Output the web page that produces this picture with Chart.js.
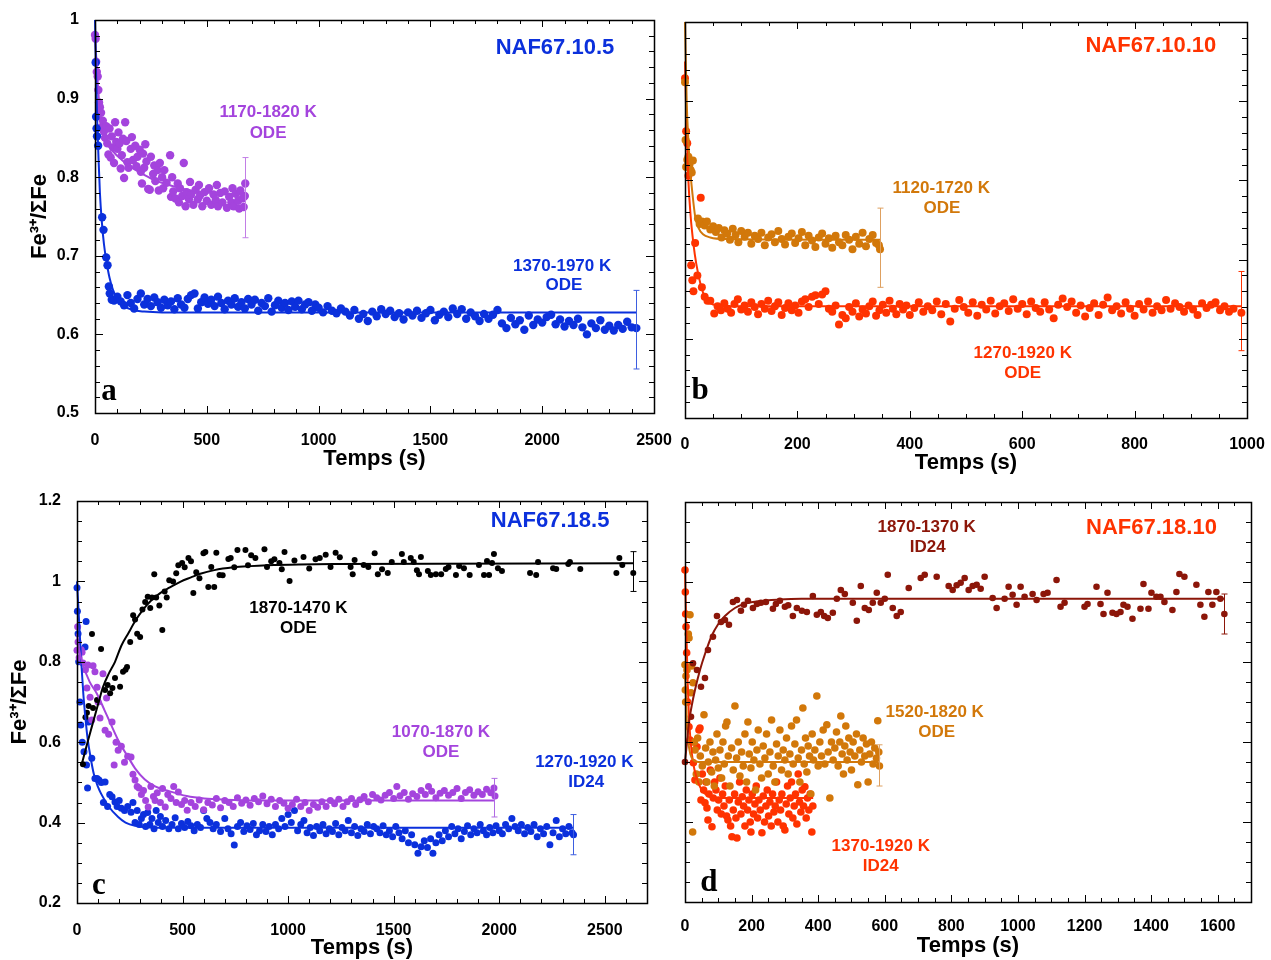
<!DOCTYPE html>
<html>
<head>
<meta charset="utf-8">
<script src="https://cdn.jsdelivr.net/npm/chart.js@4.4.1/dist/chart.umd.min.js"></script>
<style>
body{margin:0;background:#fff;width:1271px;height:960px;position:relative;overflow:hidden}
canvas{position:absolute}
</style>
</head>
<body>
<canvas id="ca" width="675" height="480" style="left:0;top:0"></canvas>
<canvas id="cb" width="601" height="480" style="left:670px;top:0"></canvas>
<canvas id="cc" width="675" height="480" style="left:0;top:480px"></canvas>
<canvas id="cd" width="601" height="480" style="left:670px;top:480px"></canvas>
<script>
// ---- data: [time (s), Fe3+/SumFe] ----

// tick labels
const aTicksX = [0, 500, 1000, 1500, 2000, 2500]
const abTicksY = [0.5, 0.6, 0.7, 0.8, 0.9, 1]
const bTicksX = [0, 200, 400, 600, 800, 1000]
const cTicksX = [0, 500, 1000, 1500, 2000, 2500]
const cdTicksY = [0.2, 0.4, 0.6, 0.8, 1, 1.2]
const dTicksX = [0, 200, 400, 600, 800, 1000, 1200, 1400, 1600]

// panel a : NAF67.10.5
const aPurple = [[0,0.981],[3,0.976],[5,0.947],[8,0.934],[12,0.928],[15,0.911],[18,0.895],[22,0.889],[27,0.882],[30,0.864],[35,0.872],[40,0.858],[45,0.850],[50,0.865],[55,0.843],[60,0.829],[65,0.862],[70,0.825],[75,0.852],[80,0.838],[85,0.818],[90,0.870],[95,0.845],[100,0.836],[105,0.857],[110,0.843],[115,0.811],[120,0.828],[125,0.849],[130,0.799],[135,0.870],[140,0.846],[145,0.819],[150,0.812],[160,0.836],[165,0.851],[170,0.822],[180,0.840],[185,0.814],[190,0.826],[200,0.835],[205,0.807],[210,0.792],[215,0.830],[220,0.812],[225,0.842],[230,0.820],[238,0.785],[245,0.784],[250,0.826],[260,0.804],[265,0.815],[270,0.795],[280,0.809],[285,0.783],[290,0.818],[300,0.800],[305,0.786],[310,0.809],[320,0.793],[336,0.828],[340,0.775],[345,0.800],[350,0.782],[360,0.773],[370,0.792],[375,0.768],[380,0.786],[390,0.776],[397,0.818],[405,0.763],[410,0.781],[420,0.772],[425,0.794],[430,0.778],[440,0.765],[450,0.784],[460,0.772],[465,0.790],[470,0.777],[480,0.763],[490,0.781],[500,0.770],[510,0.786],[520,0.765],[530,0.778],[540,0.771],[545,0.790],[550,0.763],[560,0.780],[570,0.768],[580,0.782],[590,0.761],[600,0.775],[610,0.768],[615,0.786],[620,0.763],[630,0.779],[640,0.770],[645,0.760],[650,0.783],[660,0.773],[665,0.762],[670,0.776],[672,0.792]]
const aPurpleFit = [[0,0.98],[10,0.93],[20,0.89],[30,0.865],[50,0.845],[80,0.833],[120,0.822],[160,0.813],[200,0.806],[260,0.797],[330,0.79],[450,0.782],[672,0.778]]
const aBlue = [[3,0.946],[5,0.877],[7,0.862],[9,0.852],[14,0.84],[32,0.749],[38,0.733],[50,0.698],[56,0.688],[62,0.661],[66,0.652],[75,0.644],[85,0.643],[100,0.648],[115,0.642],[130,0.637],[145,0.650],[160,0.640],[175,0.633],[190,0.645],[205,0.652],[220,0.638],[235,0.645],[250,0.636],[265,0.647],[280,0.641],[295,0.634],[310,0.644],[325,0.637],[340,0.642],[355,0.632],[370,0.646],[385,0.638],[400,0.634],[415,0.645],[430,0.650],[445,0.652],[460,0.633],[475,0.641],[490,0.647],[505,0.639],[520,0.644],[535,0.636],[550,0.648],[565,0.640],[580,0.632],[595,0.643],[610,0.638],[625,0.646],[640,0.635],[655,0.641],[670,0.633],[685,0.645],[700,0.638],[715,0.644],[730,0.630],[745,0.640],[760,0.636],[775,0.646],[790,0.629],[805,0.637],[820,0.643],[835,0.634],[850,0.640],[865,0.631],[880,0.642],[895,0.635],[910,0.643],[925,0.632],[940,0.638],[955,0.641],[970,0.630],[985,0.638],[1000,0.634],[1020,0.628],[1040,0.636],[1060,0.630],[1080,0.627],[1100,0.633],[1120,0.629],[1140,0.624],[1160,0.631],[1180,0.620],[1200,0.626],[1220,0.617],[1240,0.629],[1260,0.623],[1280,0.632],[1300,0.626],[1320,0.630],[1340,0.622],[1360,0.627],[1380,0.619],[1400,0.628],[1420,0.624],[1440,0.630],[1460,0.621],[1480,0.627],[1500,0.631],[1520,0.618],[1540,0.625],[1560,0.629],[1580,0.622],[1600,0.633],[1620,0.626],[1640,0.632],[1660,0.620],[1680,0.628],[1700,0.623],[1720,0.617],[1740,0.626],[1760,0.620],[1780,0.625],[1800,0.631],[1820,0.614],[1840,0.608],[1860,0.621],[1880,0.613],[1900,0.618],[1920,0.606],[1940,0.624],[1960,0.612],[1980,0.619],[2000,0.615],[2020,0.622],[2040,0.625],[2060,0.613],[2080,0.619],[2100,0.610],[2120,0.617],[2140,0.612],[2160,0.620],[2180,0.609],[2200,0.600],[2220,0.614],[2240,0.608],[2260,0.618],[2280,0.606],[2300,0.611],[2320,0.605],[2340,0.612],[2360,0.607],[2380,0.616],[2400,0.609],[2421,0.608]]
const aBlueFit = [[0,1.0],[5,0.93],[10,0.87],[15,0.83],[22,0.78],[30,0.745],[40,0.715],[50,0.695],[65,0.672],[80,0.657],[100,0.645],[130,0.636],[170,0.631],[220,0.629],[300,0.628],[2421,0.628]]
const aErr = [[672,0.723,0.825],[2421,0.556,0.656]]

// panel b : NAF67.10.10
const bOrange = [[0,0.924],[1,0.851],[2,0.817],[4,0.826],[6,0.83],[8,0.82],[10,0.813],[12,0.81],[14,0.825],[23,0.752],[26,0.745],[30,0.748],[35,0.743],[39,0.748],[45,0.738],[50,0.742],[55,0.735],[60,0.74],[65,0.728],[70,0.737],[75,0.733],[80,0.725],[85,0.739],[90,0.731],[95,0.722],[100,0.736],[106,0.729],[112,0.734],[118,0.72],[124,0.73],[130,0.726],[136,0.734],[142,0.718],[148,0.728],[154,0.732],[160,0.722],[166,0.736],[172,0.726],[178,0.719],[184,0.729],[190,0.733],[196,0.721],[202,0.727],[208,0.735],[214,0.718],[220,0.73],[226,0.724],[232,0.716],[238,0.728],[244,0.733],[250,0.72],[256,0.727],[262,0.715],[268,0.73],[274,0.722],[280,0.718],[286,0.731],[292,0.725],[298,0.713],[304,0.729],[310,0.72],[316,0.734],[322,0.717],[328,0.726],[334,0.731],[340,0.721],[345,0.718],[347,0.713]]
const bOrangeFit = [[0,1.0],[3,0.90],[6,0.85],[9,0.815],[13,0.785],[18,0.755],[24,0.74],[32,0.732],[45,0.728],[70,0.726],[347,0.725]]
const bRed = [[0,0.929],[2,0.862],[4,0.847],[6,0.806],[11,0.693],[13,0.674],[15,0.66],[18,0.721],[22,0.68],[28,0.778],[30,0.665],[35,0.653],[40,0.648],[45,0.648],[52,0.632],[58,0.641],[64,0.636],[70,0.645],[76,0.638],[82,0.633],[88,0.644],[94,0.650],[100,0.637],[106,0.642],[112,0.634],[118,0.646],[124,0.640],[130,0.631],[136,0.644],[142,0.638],[148,0.648],[154,0.635],[160,0.641],[166,0.646],[172,0.630],[178,0.639],[184,0.645],[190,0.636],[196,0.642],[202,0.633],[208,0.647],[214,0.650],[220,0.640],[226,0.653],[232,0.655],[238,0.644],[244,0.656],[250,0.660],[256,0.638],[262,0.634],[268,0.642],[274,0.618],[280,0.630],[286,0.626],[292,0.640],[298,0.634],[304,0.645],[310,0.628],[316,0.637],[322,0.632],[328,0.641],[334,0.647],[340,0.629],[346,0.636],[352,0.643],[358,0.633],[364,0.648],[370,0.638],[376,0.631],[382,0.644],[388,0.637],[394,0.642],[400,0.630],[408,0.639],[416,0.646],[424,0.634],[432,0.641],[440,0.636],[448,0.647],[456,0.631],[464,0.644],[472,0.622],[480,0.638],[488,0.649],[496,0.640],[504,0.633],[512,0.646],[520,0.629],[528,0.643],[536,0.637],[544,0.648],[552,0.632],[560,0.641],[568,0.645],[576,0.635],[584,0.650],[592,0.638],[600,0.644],[608,0.631],[616,0.647],[624,0.639],[632,0.634],[640,0.646],[648,0.637],[656,0.626],[664,0.643],[672,0.651],[680,0.640],[688,0.647],[696,0.633],[704,0.642],[712,0.628],[720,0.639],[728,0.645],[736,0.630],[744,0.643],[752,0.652],[760,0.636],[768,0.641],[776,0.632],[784,0.646],[792,0.638],[800,0.629],[808,0.644],[816,0.637],[824,0.647],[832,0.633],[840,0.641],[848,0.636],[856,0.649],[864,0.638],[872,0.645],[880,0.640],[888,0.634],[896,0.642],[904,0.637],[912,0.630],[920,0.645],[928,0.639],[936,0.643],[944,0.646],[952,0.636],[960,0.641],[968,0.634],[976,0.638],[990,0.633]]
const bRedFit = [[0,0.95],[3,0.86],[6,0.80],[10,0.755],[15,0.72],[20,0.695],[28,0.668],[36,0.652],[45,0.645],[60,0.642],[80,0.641],[990,0.641]]
const bErr = [[347,0.665,0.765],[990,0.585,0.685]]

// panel c : NAF67.18.5
const cBlack = [[28,0.545],[40,0.662],[47,0.673],[55,0.69],[71,0.869],[76,0.685],[95,0.705],[114,0.832],[133,0.73],[145,0.742],[157,0.722],[168,0.735],[180,0.76],[204,0.738],[218,0.775],[230,0.78],[237,0.787],[252,0.849],[266,0.916],[275,0.905],[285,0.87],[299,0.862],[310,0.93],[323,0.949],[335,0.962],[347,0.934],[355,0.96],[366,1.018],[375,0.96],[390,0.94],[404,0.879],[415,0.975],[425,0.96],[437,1.003],[455,1.0],[470,1.02],[480,1.04],[498,1.046],[510,1.035],[528,1.058],[540,1.05],[551,0.971],[565,1.023],[580,1.008],[599,1.07],[608,1.073],[622,0.986],[636,1.036],[650,0.986],[660,1.071],[675,1.016],[690,1.015],[717,1.056],[728,1.058],[745,1.035],[760,1.078],[798,1.078],[810,1.04],[825,1.065],[845,1.058],[888,1.08],[900,1.036],[920,1.05],[935,1.055],[959,1.046],[970,1.03],[983,1.073],[1007,1.001],[1030,1.052],[1073,1.061],[1100,1.032],[1130,1.055],[1150,1.058],[1178,1.066],[1201,1.036],[1225,1.071],[1245,1.06],[1296,1.036],[1306,1.018],[1315,1.053],[1358,1.041],[1380,1.036],[1410,1.07],[1425,1.018],[1445,1.03],[1472,1.021],[1491,1.048],[1539,1.068],[1548,1.048],[1581,1.058],[1595,1.048],[1610,1.028],[1620,1.018],[1629,1.061],[1662,1.026],[1676,1.016],[1700,1.018],[1725,1.018],[1747,1.031],[1760,1.036],[1795,1.016],[1810,1.038],[1833,1.033],[1860,1.016],[1904,1.041],[1928,1.016],[1942,1.051],[1952,1.016],[1966,1.046],[1975,1.068],[1994,1.033],[2013,1.026],[2146,1.021],[2175,1.016],[2184,1.048],[2255,1.033],[2270,1.031],[2327,1.043],[2335,1.048],[2384,1.031],[2555,1.021],[2569,1.058],[2583,1.041],[2635,1.021]]
const cBlackFit = [[25,0.55],[50,0.6],[71,0.64],[100,0.695],[123,0.737],[150,0.77],[180,0.80],[210,0.84],[242,0.87],[280,0.905],[313,0.93],[350,0.952],[394,0.971],[440,0.985],[489,0.999],[540,1.01],[584,1.019],[650,1.028],[741,1.035],[820,1.038],[902,1.04],[1050,1.042],[1216,1.043],[2635,1.045]]
const cPurple = [[0,0.829],[3,0.887],[5,0.849],[10,0.81],[20,0.83],[24,0.824],[28,0.797],[40,0.78],[47,0.735],[52,0.792],[62,0.712],[70,0.655],[76,0.79],[85,0.775],[95,0.737],[100,0.70],[109,0.66],[123,0.77],[133,0.63],[140,0.71],[150,0.62],[166,0.65],[176,0.543],[185,0.60],[195,0.58],[210,0.59],[225,0.55],[240,0.565],[256,0.563],[265,0.52],[275,0.506],[285,0.49],[294,0.486],[305,0.47],[315,0.48],[325,0.455],[337,0.439],[350,0.49],[362,0.465],[370,0.455],[380,0.474],[395,0.45],[405,0.485],[418,0.439],[430,0.47],[445,0.46],[458,0.49],[470,0.45],[480,0.476],[495,0.445],[510,0.455],[522,0.431],[540,0.45],[560,0.44],[579,0.456],[600,0.432],[620,0.45],[641,0.444],[660,0.46],[680,0.437],[700,0.455],[720,0.45],[740,0.44],[760,0.462],[780,0.448],[800,0.456],[820,0.443],[840,0.46],[860,0.452],[880,0.466],[900,0.447],[920,0.458],[940,0.44],[960,0.455],[980,0.448],[1000,0.436],[1020,0.445],[1040,0.458],[1060,0.44],[1080,0.45],[1100,0.43],[1120,0.445],[1140,0.438],[1160,0.452],[1180,0.44],[1200,0.455],[1220,0.447],[1240,0.458],[1260,0.44],[1280,0.452],[1300,0.46],[1320,0.445],[1340,0.457],[1360,0.465],[1380,0.452],[1400,0.47],[1420,0.462],[1440,0.456],[1460,0.468],[1480,0.475],[1500,0.46],[1515,0.49],[1530,0.467],[1550,0.475],[1570,0.458],[1590,0.472],[1610,0.465],[1630,0.48],[1650,0.47],[1665,0.49],[1680,0.478],[1700,0.462],[1720,0.473],[1740,0.48],[1760,0.468],[1780,0.475],[1800,0.485],[1820,0.46],[1840,0.475],[1860,0.482],[1880,0.468],[1900,0.477],[1920,0.47],[1940,0.483],[1960,0.474],[1975,0.486],[1980,0.466]]
const cPurpleFit = [[0,0.87],[10,0.83],[30,0.79],[60,0.75],[95,0.72],[130,0.68],[160,0.645],[200,0.6],[240,0.565],[275,0.535],[320,0.508],[370,0.49],[437,0.478],[520,0.466],[603,0.46],[700,0.457],[850,0.455],[1975,0.455]]
const cBlue = [[0,0.984],[2,0.926],[5,0.87],[8,0.80],[14,0.70],[18,0.643],[25,0.60],[33,0.576],[38,0.837],[43,0.90],[45,0.543],[50,0.486],[55,0.65],[70,0.56],[85,0.51],[95,0.51],[104,0.506],[115,0.5],[125,0.45],[133,0.501],[145,0.44],[155,0.47],[166,0.464],[180,0.451],[190,0.44],[200,0.455],[210,0.436],[225,0.43],[240,0.44],[256,0.426],[265,0.45],[275,0.40],[285,0.43],[295,0.395],[305,0.41],[315,0.42],[325,0.39],[335,0.425],[345,0.395],[355,0.41],[365,0.385],[375,0.43],[385,0.4],[395,0.415],[405,0.39],[420,0.405],[435,0.385],[450,0.395],[465,0.412],[480,0.385],[495,0.398],[510,0.388],[525,0.403],[540,0.392],[555,0.38],[570,0.395],[585,0.388],[600,0.43],[615,0.41],[630,0.40],[645,0.385],[660,0.395],[680,0.378],[700,0.41],[715,0.385],[730,0.372],[745,0.344],[760,0.39],[775,0.4],[790,0.378],[805,0.392],[820,0.383],[835,0.398],[850,0.37],[865,0.38],[880,0.395],[895,0.378],[910,0.39],[925,0.37],[940,0.395],[955,0.385],[970,0.41],[985,0.39],[1000,0.42],[1015,0.40],[1030,0.43],[1045,0.38],[1060,0.395],[1075,0.405],[1090,0.375],[1105,0.388],[1120,0.368],[1135,0.39],[1150,0.38],[1165,0.395],[1180,0.372],[1195,0.385],[1210,0.378],[1225,0.398],[1240,0.37],[1255,0.388],[1270,0.38],[1285,0.405],[1300,0.375],[1315,0.39],[1330,0.368],[1345,0.385],[1360,0.378],[1375,0.395],[1390,0.372],[1405,0.39],[1420,0.385],[1435,0.375],[1450,0.392],[1465,0.37],[1480,0.38],[1495,0.365],[1510,0.39],[1525,0.375],[1540,0.36],[1555,0.38],[1570,0.35],[1585,0.37],[1600,0.345],[1615,0.324],[1630,0.34],[1645,0.355],[1660,0.338],[1675,0.36],[1686,0.324],[1700,0.35],[1715,0.37],[1730,0.355],[1745,0.38],[1760,0.365],[1775,0.39],[1790,0.372],[1805,0.385],[1820,0.36],[1835,0.378],[1850,0.392],[1865,0.37],[1880,0.385],[1895,0.375],[1910,0.395],[1925,0.38],[1940,0.37],[1955,0.388],[1970,0.375],[1985,0.392],[2000,0.38],[2015,0.372],[2030,0.395],[2045,0.385],[2060,0.41],[2075,0.39],[2090,0.38],[2105,0.395],[2120,0.372],[2135,0.388],[2150,0.378],[2165,0.395],[2180,0.365],[2195,0.385],[2210,0.372],[2225,0.39],[2240,0.345],[2255,0.375],[2270,0.405],[2285,0.365],[2300,0.385],[2315,0.372],[2330,0.39],[2345,0.375],[2352,0.37]]
const cBlueFit = [[0,1.0],[10,0.9],[20,0.8],[30,0.72],[40,0.66],[50,0.61],[65,0.56],[80,0.52],[100,0.488],[114,0.472],[150,0.44],[195,0.414],[230,0.4],[275,0.392],[400,0.387],[2350,0.387]]
const cErr = [[2635,0.975,1.074],[1975,0.414,0.51],[2350,0.32,0.42]]

// panel d : NAF67.18.10
const dDark = [[0,0.55],[18,0.663],[24,0.797],[36,0.78],[48,0.738],[60,0.76],[69,0.83],[84,0.863],[96,0.915],[108,0.9],[120,0.905],[132,0.893],[144,0.95],[156,0.955],[168,0.928],[177,0.943],[189,0.953],[204,0.935],[216,0.945],[228,0.948],[243,0.95],[264,0.933],[273,0.945],[285,0.953],[300,0.938],[310,0.942],[324,0.915],[336,0.935],[351,0.928],[366,0.925],[384,0.965],[396,0.918],[408,0.925],[418,0.915],[429,0.91],[444,0.923],[456,0.958],[468,0.98],[480,0.97],[504,0.948],[516,0.903],[528,0.99],[540,0.935],[552,0.93],[564,0.948],[576,0.973],[588,0.948],[600,0.958],[609,1.018],[624,0.935],[636,0.915],[648,0.925],[672,0.985],[708,1.01],[720,1.018],[756,1.013],[792,0.99],[804,0.98],[816,0.992],[828,0.998],[840,1.01],[852,0.98],[864,0.99],[876,0.993],[888,0.983],[900,1.013],[924,0.96],[936,0.935],[960,0.958],[972,0.988],[984,0.968],[996,0.943],[1008,0.988],[1020,0.963],[1044,0.97],[1056,0.955],[1077,0.97],[1089,0.973],[1116,1.005],[1128,0.938],[1140,0.948],[1200,0.938],[1209,0.945],[1236,0.988],[1248,0.945],[1257,0.92],[1269,0.973],[1284,0.923],[1296,0.92],[1308,0.925],[1317,0.943],[1329,0.938],[1344,0.908],[1368,0.933],[1377,0.995],[1392,0.933],[1401,0.973],[1416,0.963],[1428,0.963],[1440,0.95],[1464,0.93],[1476,0.975],[1485,1.02],[1500,1.013],[1536,0.993],[1548,0.943],[1560,0.913],[1572,0.975],[1584,0.943],[1596,0.975],[1608,0.958],[1620,0.92]]
const dDarkFit = [[0,0.55],[6,0.6],[12,0.65],[20,0.69],[30,0.73],[45,0.78],[60,0.82],[80,0.865],[100,0.895],[120,0.915],[150,0.935],[180,0.946],[220,0.952],[280,0.956],[350,0.958],[1620,0.958]]
const dOrange = [[0,0.793],[1,0.73],[2,0.70],[3,0.765],[6,0.78],[10,0.87],[12,0.86],[15,0.918],[18,0.723],[20,0.79],[23,0.375],[24,0.748],[28,0.6],[30,0.58],[34,0.52],[38,0.61],[42,0.50],[46,0.565],[52,0.54],[57,0.668],[62,0.585],[66,0.50],[70,0.55],[75,0.60],[80,0.525],[84,0.575],[88,0.49],[92,0.555],[96,0.62],[100,0.535],[105,0.58],[110,0.51],[114,0.60],[118,0.545],[122,0.64],[126,0.65],[130,0.565],[135,0.49],[140,0.585],[145,0.53],[150,0.69],[155,0.56],[160,0.60],[165,0.515],[170,0.575],[175,0.54],[180,0.62],[185,0.50],[189,0.65],[193,0.57],[198,0.535],[202,0.60],[207,0.555],[212,0.48],[216,0.58],[220,0.63],[225,0.545],[230,0.51],[235,0.59],[240,0.56],[245,0.62],[250,0.52],[255,0.575],[260,0.655],[265,0.54],[270,0.50],[275,0.595],[280,0.565],[285,0.63],[290,0.53],[295,0.58],[300,0.555],[305,0.61],[310,0.52],[315,0.57],[320,0.64],[325,0.545],[330,0.595],[335,0.655],[340,0.56],[345,0.50],[350,0.58],[354,0.685],[358,0.545],[362,0.61],[366,0.525],[370,0.59],[374,0.565],[378,0.47],[382,0.62],[386,0.555],[390,0.58],[396,0.715],[400,0.54],[405,0.60],[410,0.565],[415,0.63],[420,0.545],[426,0.643],[430,0.575],[435,0.46],[440,0.60],[445,0.555],[450,0.585],[455,0.625],[460,0.54],[465,0.60],[468,0.665],[472,0.57],[476,0.52],[480,0.59],[483,0.64],[487,0.555],[492,0.61],[496,0.575],[500,0.53],[505,0.60],[510,0.565],[515,0.62],[519,0.493],[525,0.58],[530,0.55],[535,0.61],[540,0.565],[545,0.595],[550,0.50],[555,0.57],[560,0.60],[565,0.545],[570,0.585],[575,0.56],[579,0.653],[582,0.575],[584,0.54]]
const dOrangeFit = [[0,0.79],[5,0.66],[10,0.6],[16,0.57],[25,0.555],[40,0.55],[582,0.55]]
const dRed = [[0,1.03],[1,0.975],[2,0.92],[3,0.888],[5,0.823],[8,0.70],[12,0.638],[15,0.605],[20,0.60],[25,0.548],[30,0.505],[36,0.588],[42,0.63],[45,0.635],[48,0.455],[52,0.52],[56,0.48],[60,0.448],[63,0.50],[66,0.435],[69,0.405],[72,0.47],[76,0.53],[81,0.388],[85,0.46],[89,0.50],[93,0.48],[97,0.43],[101,0.455],[105,0.51],[109,0.42],[113,0.47],[117,0.44],[121,0.49],[125,0.415],[129,0.405],[133,0.455],[137,0.39],[141,0.363],[145,0.43],[149,0.47],[153,0.41],[156,0.36],[160,0.45],[164,0.50],[168,0.42],[172,0.463],[176,0.44],[180,0.39],[184,0.48],[188,0.43],[192,0.455],[196,0.40],[198,0.375],[202,0.47],[206,0.42],[210,0.445],[214,0.49],[218,0.41],[222,0.455],[226,0.43],[231,0.373],[235,0.465],[239,0.40],[243,0.44],[247,0.48],[251,0.415],[255,0.45],[259,0.39],[263,0.47],[267,0.425],[271,0.44],[275,0.50],[279,0.40],[283,0.455],[287,0.43],[291,0.47],[295,0.39],[300,0.38],[304,0.445],[308,0.49],[312,0.42],[316,0.46],[320,0.50],[324,0.41],[328,0.44],[332,0.47],[336,0.395],[340,0.52],[344,0.45],[348,0.425],[352,0.48],[356,0.44],[360,0.488],[364,0.41],[368,0.46],[372,0.43],[376,0.47],[381,0.375],[384,0.44]]
const dRedFit = [[0,1.03],[4,0.88],[8,0.75],[12,0.66],[17,0.6],[24,0.55],[35,0.51],[50,0.48],[70,0.465],[100,0.46],[385,0.46]]
const dErr = [[1620,0.87,0.97],[582,0.49,0.593]]

// colours
const BLUE = '#0b30dc', PURPLE = '#a444dd', ORANGE = '#d2780a', RED = '#ff3300', DARK = '#8c1609'

Chart.defaults.font.family = "'Liberation Sans', Arial, sans-serif"
Chart.defaults.color = '#000'

const pts = arr => arr.map(p => ({x: p[0], y: p[1]}))
const dots = (arr, color, r) => ({data: pts(arr), pointRadius: r, pointHoverRadius: r, pointBackgroundColor: color, pointBorderWidth: 0, showLine: false, order: 2, clip: 10})
const fit = (arr, color) => ({data: pts(arr), pointRadius: 0, borderColor: color, borderWidth: 2, showLine: true, cubicInterpolationMode: 'monotone', order: 0, clip: 10})

const fonts = {
  title: "bold 22px 'Liberation Sans', Arial, sans-serif",
  lab: "bold 17px 'Liberation Sans', Arial, sans-serif",
  letter: "bold 31px 'Liberation Serif', 'Times New Roman', serif"
}

// ticks inside the frame, frame box, error bars, text labels
const extras = (p) => ({
  id: 'extras',
  afterDatasetsDraw(chart) {
    const ctx = chart.ctx
    const a = chart.chartArea
    const x = chart.scales.x, y = chart.scales.y
    ctx.save()
    p.errs.forEach(e => {
      const px = Math.round(x.getPixelForValue(e[0])) + 0.5
      const y1 = y.getPixelForValue(e[1]), y2 = y.getPixelForValue(e[2])
      ctx.strokeStyle = e[3]
      ctx.lineWidth = 1
      ctx.beginPath()
      ctx.moveTo(px, y1); ctx.lineTo(px, y2)
      ctx.moveTo(px - 3, y1); ctx.lineTo(px + 3, y1)
      ctx.moveTo(px - 3, y2); ctx.lineTo(px + 3, y2)
      ctx.stroke()
    })
    ctx.strokeStyle = '#000'
    ctx.lineWidth = 1
    ctx.beginPath()
    let n = Math.round((p.xMax - p.xMin) / p.xMinor)
    for (let i = 0; i <= n; i++) {
      const v = p.xMin + i * p.xMinor
      const major = Math.abs(v / p.xStep - Math.round(v / p.xStep)) < 1e-6
      const L = major ? 7 : 4
      const px = Math.round(x.getPixelForValue(v)) + 0.5
      ctx.moveTo(px, a.bottom); ctx.lineTo(px, a.bottom - L)
      ctx.moveTo(px, a.top); ctx.lineTo(px, a.top + L)
    }
    n = Math.round((p.yMax - p.yMin) / p.yMinor)
    for (let i = 0; i <= n; i++) {
      const v = p.yMin + i * p.yMinor
      const major = Math.abs(v / p.yStep - Math.round(v / p.yStep)) < 1e-6
      const L = major ? 8 : 5
      const py = Math.round(y.getPixelForValue(v)) + 0.5
      ctx.moveTo(a.left, py); ctx.lineTo(a.left + L, py)
      ctx.moveTo(a.right, py); ctx.lineTo(a.right - L, py)
    }
    ctx.stroke()
    ctx.lineWidth = 1.5
    ctx.strokeRect(Math.round(a.left) + 0.5, Math.round(a.top) + 0.5, Math.round(a.right - a.left), Math.round(a.bottom - a.top))
    ctx.textAlign = 'center'
    ctx.textBaseline = 'middle'
    p.texts.forEach(t => {
      ctx.font = fonts[t[4]]
      ctx.fillStyle = t[3]
      ctx.fillText(t[0], x.getPixelForValue(t[1]), y.getPixelForValue(t[2]))
    })
    ctx.restore()
  }
})

function panel(id, p) {
  new Chart(document.getElementById(id), {
    type: 'scatter',
    data: {datasets: p.sets},
    options: {
      responsive: false,
      animation: false,
      events: [],
      layout: {autoPadding: false, padding: {left: 0, top: p.top, right: p.right, bottom: 0}},
      plugins: {legend: {display: false}, tooltip: {enabled: false}},
      scales: {
        x: {
          type: 'linear', min: p.xMin, max: p.xMax,
          grid: {display: false}, border: {display: false},
          ticks: {autoSkip: false, padding: p.xPad, maxRotation: 0, font: {size: 16, weight: 'bold'}, callback: v => String(v)},
          afterBuildTicks: s => { s.ticks = p.ticksX.map(v => ({value: v})) },
          title: {display: true, text: 'Temps (s)', font: {size: 22, weight: 'bold', lineHeight: 1}, padding: {top: 0, bottom: p.xTitlePad}},
          afterFit: s => { s.height = p.xH; s.paddingLeft = 0; s.paddingRight = 0 }
        },
        y: {
          type: 'linear', min: p.yMin, max: p.yMax,
          grid: {display: false}, border: {display: false},
          ticks: {display: p.showY, autoSkip: false, padding: 8, font: {size: 16, weight: 'bold'}, callback: v => String(v)},
          afterBuildTicks: s => { s.ticks = p.ticksY.map(v => ({value: v})) },
          title: {display: p.showY, text: 'Fe³⁺/ΣFe', font: {size: 22, weight: 'bold', lineHeight: 1}, padding: {top: p.yTitlePad, bottom: 0}},
          afterFit: s => { s.width = p.yW; s.paddingTop = 0; s.paddingBottom = 0 }
        }
      }
    },
    plugins: [extras(p)]
  })
}

panel('ca', {
  xMin: 0, xMax: 2500, xStep: 500, xMinor: 100, ticksX: aTicksX,
  yMin: 0.5, yMax: 1, yStep: 0.1, yMinor: 0.02, ticksY: abTicksY,
  showY: true, yW: 95, xH: 67, top: 20, right: 21, xPad: 10, xTitlePad: 10, yTitlePad: 29,
  sets: [fit(aBlueFit, BLUE), fit(aPurpleFit, PURPLE), dots(aBlue, BLUE, 4.2), dots(aPurple, PURPLE, 4.2)],
  errs: [[aErr[0][0], aErr[0][1], aErr[0][2], '#c27ee6'], [aErr[1][0], aErr[1][1], aErr[1][2], '#3d5ee0']],
  texts: [['NAF67.10.5', 2057, 0.964, BLUE, 'title'], ['1170-1820 K', 774, 0.882, PURPLE, 'lab'], ['ODE', 774, 0.856, PURPLE, 'lab'],
    ['1370-1970 K', 2089, 0.687, BLUE, 'lab'], ['ODE', 2097, 0.662, BLUE, 'lab'], ['a', 63, 0.527, '#000', 'letter']]
})

panel('cb', {
  xMin: 0, xMax: 1000, xStep: 200, xMinor: 50, ticksX: bTicksX,
  yMin: 0.5, yMax: 1, yStep: 0.1, yMinor: 0.02, ticksY: abTicksY,
  showY: false, yW: 15, xH: 62, top: 22, right: 24, xPad: 9, xTitlePad: 6, yTitlePad: 0,
  sets: [fit(bOrangeFit, ORANGE), fit(bRedFit, RED), dots(bOrange, ORANGE, 4), dots(bRed, RED, 4)],
  errs: [[bErr[0][0], bErr[0][1], bErr[0][2], '#dea060'], [bErr[1][0], bErr[1][1], bErr[1][2], RED]],
  texts: [['NAF67.10.10', 829, 0.970, RED, 'title'], ['1120-1720 K', 456, 0.790, ORANGE, 'lab'], ['ODE', 457, 0.765, ORANGE, 'lab'],
    ['1270-1920 K', 601, 0.582, RED, 'lab'], ['ODE', 601, 0.557, RED, 'lab'], ['b', 27, 0.534, '#000', 'letter']]
})

panel('cc', {
  xMin: 0, xMax: 2700, xStep: 500, xMinor: 100, ticksX: cTicksX,
  yMin: 0.2, yMax: 1.2, yStep: 0.2, yMinor: 0.05, ticksY: cdTicksY,
  showY: true, yW: 77, xH: 57, top: 21, right: 28, xPad: 10, xTitlePad: 1, yTitlePad: 9,
  sets: [fit(cBlackFit, '#000'), fit(cPurpleFit, PURPLE), fit(cBlueFit, BLUE), dots(cBlack, '#000', 3), dots(cPurple, PURPLE, 3.5), dots(cBlue, BLUE, 3.5)],
  errs: [[cErr[0][0], cErr[0][1], cErr[0][2], '#000'], [cErr[1][0], cErr[1][1], cErr[1][2], '#b06be3'], [cErr[2][0], cErr[2][1], cErr[2][2], '#3d5ee0']],
  texts: [['NAF67.18.5', 2241, 1.150, BLUE, 'title'], ['1870-1470 K', 1049, 0.934, '#000', 'lab'], ['ODE', 1049, 0.884, '#000', 'lab'],
    ['1070-1870 K', 1724, 0.625, PURPLE, 'lab'], ['ODE', 1724, 0.576, PURPLE, 'lab'],
    ['1270-1920 K', 2403, 0.551, BLUE, 'lab'], ['ID24', 2412, 0.501, BLUE, 'lab'], ['c', 104, 0.242, '#000', 'letter']]
})

panel('cd', {
  xMin: 0, xMax: 1700, xStep: 200, xMinor: 50, ticksX: dTicksX,
  yMin: 0.2, yMax: 1.2, yStep: 0.2, yMinor: 0.05, ticksY: cdTicksY,
  showY: false, yW: 15, xH: 58, top: 22, right: 20, xPad: 7, xTitlePad: 3, yTitlePad: 0,
  sets: [fit(dDarkFit, DARK), fit(dOrangeFit, ORANGE), fit(dRedFit, RED), dots(dDark, DARK, 3.3), dots(dOrange, ORANGE, 3.8), dots(dRed, RED, 3.8)],
  errs: [[dErr[0][0], dErr[0][1], dErr[0][2], DARK], [dErr[1][0], dErr[1][1], dErr[1][2], '#dea060']],
  texts: [['NAF67.18.10', 1401, 1.135, RED, 'title'], ['1870-1370 K', 726, 1.1375, DARK, 'lab'], ['ID24', 729, 1.0875, DARK, 'lab'],
    ['1520-1820 K', 750, 0.675, ORANGE, 'lab'], ['ODE', 756, 0.625, ORANGE, 'lab'],
    ['1370-1920 K', 588, 0.34, RED, 'lab'], ['ID24', 588, 0.29, RED, 'lab'], ['d', 72, 0.247, '#000', 'letter']]
})
</script>
</body>
</html>
